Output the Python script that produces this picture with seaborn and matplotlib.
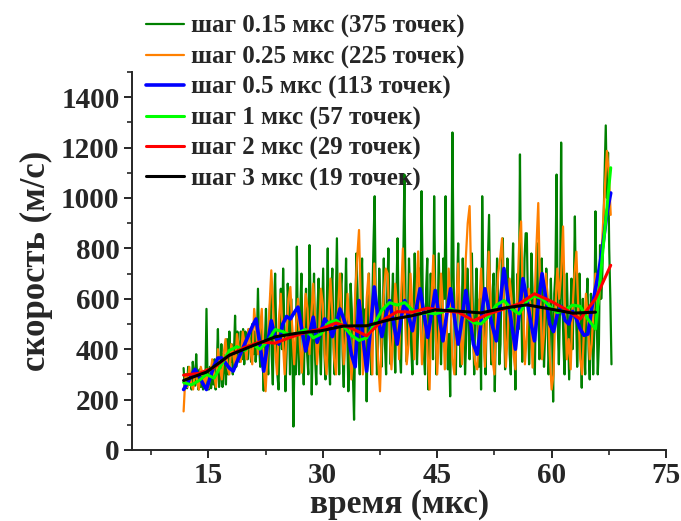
import matplotlib
matplotlib.use("Agg")
import matplotlib.pyplot as plt
import numpy as np
import pandas as pd
import seaborn as sns
from matplotlib.ticker import MultipleLocator

# start time of every series (mks)
t_start = 11.75

# step 0.15 mks (375 points)
v_015 = [
    325, 250, 300, 245, 330, 260, 280, 240, 350, 300, 255, 380, 270, 240, 320, 250, 290, 240, 300, 245, 560, 250, 240, 330, 245,
    300, 260, 360, 240, 330, 480, 250, 300, 420, 250, 380, 330, 260, 440, 300, 470, 350, 420, 300, 380, 533, 330, 470, 400, 350,
    470, 360, 480, 340, 470, 400, 360, 480, 420, 350, 500, 380, 470, 350, 420, 640, 420, 330, 480, 380, 235, 420, 560, 380, 300,
    520, 620, 380, 260, 560, 700, 450, 300, 240, 520, 640, 400, 720, 500, 233, 380, 660, 560, 300, 600, 450, 93, 420, 300, 807,
    400, 300, 560, 700, 420, 260, 500, 640, 380, 300, 813, 600, 220, 480, 700, 360, 260, 560, 680, 420, 300, 520, 720, 400, 280,
    520, 800, 380, 260, 600, 720, 420, 300, 560, 840, 500, 300, 620, 700, 380, 250, 540, 760, 480, 233, 420, 660, 560, 300, 120,
    500, 780, 640, 400, 300, 620, 760, 480, 350, 560, 193, 520, 700, 420, 300, 600, 820, 1007, 560, 300, 420, 720, 580, 330, 480,
    760, 420, 300, 620, 800, 500, 340, 560, 700, 450, 307, 600, 840, 520, 380, 307, 560, 740, 1093, 600, 350, 480, 760, 620, 400,
    300, 560, 780, 600, 340, 480, 720, 560, 1027, 620, 380, 300, 640, 760, 240, 500, 700, 560, 360, 1007, 600, 300, 480, 780, 560,
    340, 520, 760, 600, 1007, 500, 320, 460, 213, 620, 1260, 700, 400, 300, 640, 820, 560, 330, 500, 760, 600, 300, 440, 720, 560,
    360, 620, 780, 500, 300, 560, 720, 480, 330, 600, 240, 1007, 640, 400, 300, 580, 760, 933, 500, 340, 620, 700, 233, 520, 760,
    600, 340, 420, 720, 840, 560, 320, 480, 760, 620, 380, 300, 640, 820, 500, 240, 560, 700, 480, 1173, 620, 350, 460, 760, 860,
    860, 560, 340, 480, 780, 640, 400, 300, 620, 820, 560, 360, 500, 760, 600, 330, 460, 720, 580, 300, 420, 680, 500, 192, 620,
    700, 1093, 500, 340, 560, 1220, 620, 420, 300, 560, 700, 480, 280, 520, 680, 400, 600, 927, 560, 330, 480, 700, 520, 247, 600,
    420, 300, 560, 680, 400, 280, 620, 520, 300, 480, 947, 560, 300, 420, 813, 600, 700, 900, 1100, 1288, 1000, 1180, 800, 600, 340,
]

# step 0.25 mks (225 points)
v_025 = [
    153, 300, 250, 330, 260, 240, 320, 280, 240, 330, 300, 250, 320, 245, 300,
    360, 300, 250, 400, 330, 280, 380, 440, 330, 300, 420, 380, 330, 460, 400,
    350, 470, 420, 360, 480, 400, 340, 560, 480, 380, 470, 560, 330, 233, 380,
    560, 713, 560, 400, 300, 520, 620, 440, 300, 460, 600, 647, 480, 340, 500,
    600, 420, 307, 480, 620, 560, 380, 540, 660, 520, 340, 460, 640, 580, 380,
    300, 520, 680, 540, 360, 300, 560, 700, 520, 340, 440, 620, 480, 280, 400,
    620, 760, 873, 560, 300, 380, 600, 700, 480, 300, 740, 560, 360, 233, 480,
    620, 720, 700, 480, 320, 460, 660, 560, 360, 600, 800, 560, 340, 420, 700,
    560, 360, 600, 788, 560, 340, 480, 560, 380, 240, 600, 772, 520, 300, 480,
    700, 560, 320, 460, 720, 600, 360, 300, 560, 740, 520, 340, 480, 760, 900,
    968, 620, 400, 340, 320, 560, 720, 520, 330, 520, 787, 600, 360, 300, 560,
    700, 760, 840, 560, 330, 460, 680, 600, 380, 320, 600, 820, 907, 560, 340,
    460, 640, 560, 327, 560, 800, 980, 620, 360, 460, 700, 600, 380, 240, 300,
    560, 720, 600, 700, 887, 560, 360, 440, 320, 560, 700, 787, 560, 360, 300,
    480, 620, 520, 360, 420, 560, 700, 560, 600, 760, 900, 1050, 1187, 1100, 933,
]

# step 0.5 mks (113 points)
v_05 = [
    240, 265, 295, 320, 295, 265, 240, 290, 335, 365, 365, 345, 325, 313, 350, 385, 420, 455, 490, 520,
    420, 313, 420, 513, 450, 420, 500, 530, 520, 545, 567, 480, 393, 460, 527, 427, 470, 520, 500, 450,
    500, 560, 520, 470, 380, 330, 593, 450, 313, 480, 647, 520, 450, 530, 593, 510, 420, 520, 593, 530,
    473, 560, 640, 545, 447, 540, 633, 530, 433, 540, 640, 530, 420, 520, 633, 530, 420, 380, 510, 640,
    560, 490, 433, 580, 720, 610, 500, 400, 540, 680, 600, 510, 433, 580, 700, 600, 500, 470, 540, 570,
    515, 500, 550, 520, 480, 455, 460, 560, 640, 720, 820, 940, 1020,
]

# step 1 mks (57 points)
v_1 = [
    268, 258, 275, 300, 285, 340, 395, 410, 395, 420, 400, 430, 478, 470, 455, 465, 478, 445, 460, 505,
    515, 490, 455, 435, 445, 500, 555, 585, 575, 585, 555, 540, 545, 540, 548, 560, 550, 530, 505, 500,
    530, 575, 593, 560, 540, 590, 612, 600, 570, 545, 555, 575, 570, 520, 480, 800, 1120,
]

# step 2 mks (29 points)
v_2 = [297, 304, 327, 376, 407, 429, 424, 447, 467, 480, 504, 483, 453, 513, 549,
       547, 563, 553, 547, 513, 540, 560, 580, 620, 593, 560, 520, 600, 733]

# step 3 mks (19 points)
v_3 = [276, 309, 376, 413, 449, 464, 473, 492, 493, 517, 533, 556, 551, 544, 563, 576, 560, 543, 547]

series = [
    ("шаг 0.15 мкс (375 точек)", 0.15, v_015, "#008000", 1.6),
    ("шаг 0.25 мкс (225 точек)", 0.25, v_025, "#ff8000", 1.6),
    ("шаг 0.5 мкс (113 точек)", 0.5, v_05, "#0000ff", 2.6),
    ("шаг 1 мкс (57 точек)", 1.0, v_1, "#00ff00", 2.2),
    ("шаг 2 мкс (29 точек)", 2.0, v_2, "#ff0000", 2.2),
    ("шаг 3 мкс (19 точек)", 3.0, v_3, "#000000", 2.2),
]

sns.set_style("ticks")
plt.rcParams['font.family'] = ['Liberation Serif', 'DejaVu Serif']
plt.rcParams['font.weight'] = 'bold'

fig = plt.figure(figsize=(6.81, 5.21), dpi=100)
ax = fig.add_axes([0.194, 0.1363, 0.784, 0.7255])

for label, step, vals, color, lw in series:
    df = pd.DataFrame({"t": t_start + step * np.arange(len(vals)), "v": vals})
    sns.lineplot(data=df, x="t", y="v", ax=ax, color=color, linewidth=lw,
                 label=label, estimator=None, sort=False)

ax.set_xlim(5, 75)
ax.set_ylim(0, 1500)
ax.xaxis.set_major_locator(MultipleLocator(15))
ax.xaxis.set_minor_locator(MultipleLocator(7.5))
ax.yaxis.set_major_locator(MultipleLocator(200))
ax.yaxis.set_minor_locator(MultipleLocator(100))
ax.tick_params(which='major', direction='out', length=6, width=1.4, labelsize=21, pad=3)
ax.tick_params(which='minor', direction='out', length=3.5, width=1.2)
for lab in ax.get_xticklabels() + ax.get_yticklabels():
    lab.set_fontweight('bold')
for s in ['left', 'bottom']:
    ax.spines[s].set_linewidth(1.4)
sns.despine(ax=ax)

ax.set_xlabel("время (мкс)", fontsize=24, fontweight='bold', labelpad=0)
ax.set_ylabel("скорость (м/с)", fontsize=25, fontweight='bold', labelpad=6)

ax.legend(loc='upper left', bbox_to_anchor=(136 / 681, 1 - 5 / 521),
          bbox_transform=fig.transFigure, frameon=False,
          prop={'size': 18, 'weight': 'bold'}, handlelength=1.5,
          handletextpad=0.3, labelspacing=0.28, borderaxespad=0)

fig.savefig("out.png", dpi=100)
